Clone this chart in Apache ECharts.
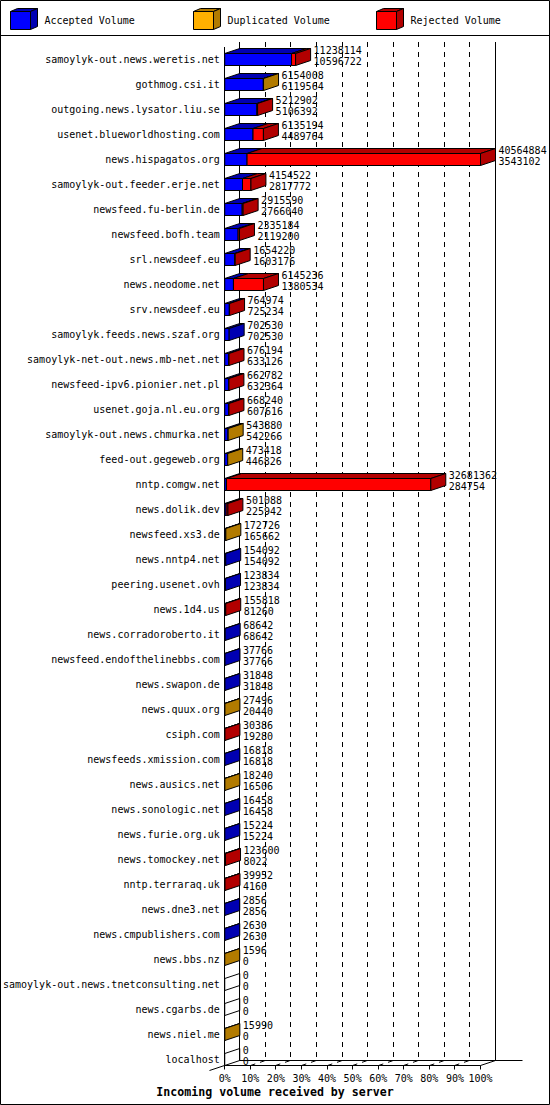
<!DOCTYPE html>
<html><head><meta charset="utf-8">
<script src="https://cdn.jsdelivr.net/npm/echarts@6/dist/echarts.min.js"></script>
<style>html,body{margin:0;padding:0;background:#fff}#c{width:550px;height:1105px}</style>
</head><body><div id="c"></div>
<script>
const categories = [
  'samoylyk-out.news.weretis.net','gothmog.csi.it','outgoing.news.lysator.liu.se','usenet.blueworldhosting.com',
  'news.hispagatos.org','samoylyk-out.feeder.erje.net','newsfeed.fu-berlin.de','newsfeed.bofh.team',
  'srl.newsdeef.eu','news.neodome.net','srv.newsdeef.eu','samoylyk.feeds.news.szaf.org',
  'samoylyk-net-out.news.mb-net.net','newsfeed-ipv6.pionier.net.pl','usenet.goja.nl.eu.org','samoylyk-out.news.chmurka.net',
  'feed-out.gegeweb.org','nntp.comgw.net','news.dolik.dev','newsfeed.xs3.de',
  'news.nntp4.net','peering.usenet.ovh','news.1d4.us','news.corradoroberto.it',
  'newsfeed.endofthelinebbs.com','news.swapon.de','news.quux.org','csiph.com',
  'newsfeeds.xmission.com','news.ausics.net','news.sonologic.net','news.furie.org.uk',
  'news.tomockey.net','nntp.terraraq.uk','news.dne3.net','news.cmpublishers.com',
  'news.bbs.nz','samoylyk-out.news.tnetconsulting.net','news.cgarbs.de','news.niel.me','localhost'
];
const offered = [
  11238114,6154008,5212902,6135194,40564884,4154522,2915590,2335184,
  1654220,6145236,764974,702530,676194,662782,668240,543880,
  473418,32681362,501088,172726,154092,123834,155818,68642,
  37766,31848,27496,30386,16818,18240,16458,15224,
  123600,39952,2856,2630,1596,0,0,15990,0
];
const accepted = [
  10596722,6119564,5106392,4489764,3543102,2817772,2766040,2119200,
  1603176,1380534,725234,702530,633126,632364,607616,542266,
  446826,284754,225942,165662,154092,123834,81260,68642,
  37766,31848,20440,19280,16818,16506,16458,15224,
  8022,4160,2856,2630,0,0,0,0,0
];
const duplicated = [
  0,34444,0,0,0,0,0,0,
  0,0,0,0,0,0,0,1614,
  26592,0,0,7064,0,0,0,0,
  0,0,7056,0,0,1734,0,0,
  0,0,0,0,1596,0,0,15990,0
];
const rejected = [
  641392,0,106510,1645430,37021782,1336750,149550,215984,
  51044,4764702,39740,0,43068,30418,60624,0,
  0,32396608,275146,0,0,0,74558,0,
  0,0,0,11106,0,0,0,0,
  115578,35792,0,0,0,0,0,0,0
];
const tickLabels = ['0%','10%','20%','30%','40%','50%','60%','70%','80%','90%','100%'];
const legendNames = ['Accepted Volume','Duplicated Volume','Rejected Volume'];
const titleText = 'Incoming volume received by server';

const FRONT = ['#0000FF','#FFB000','#FF0000'];
const DARK  = ['#0000B2','#B27B00','#B20000'];
const DX = 15, DY = -5, HALF = 6;
const FONT = '"DejaVu Sans Mono", "Liberation Mono", monospace';
const MAXV = Math.max.apply(null, offered);
const pct = v => v / MAXV * 100;

const barData = categories.map((c, i) => [i, accepted[i], duplicated[i], rejected[i], offered[i]]);

function renderBar(params, api) {
  const i = api.value(0);
  const parts = [api.value(1), api.value(2), api.value(3)];
  const c = api.coord([0, i]);
  const y0 = c[1] - HALF, y1 = c[1] + HALF;
  const children = [];
  let cum = 0, lastX = c[0], lastDark = null;
  parts.forEach((v, k) => {
    if (v <= 0) return;
    const xa = api.coord([pct(cum), i])[0];
    cum += v;
    const xb = api.coord([pct(cum), i])[0];
    children.push({type: 'polygon', shape: {points: [[xa, y0], [xb, y0], [xb + DX, y0 + DY], [xa + DX, y0 + DY]]},
      style: {fill: DARK[k], stroke: '#000', lineWidth: 1}});
    children.push({type: 'rect', shape: {x: xa, y: y0, width: xb - xa, height: y1 - y0},
      style: {fill: FRONT[k], stroke: '#000', lineWidth: 1}});
    lastX = xb; lastDark = DARK[k];
  });
  children.push({type: 'polygon', shape: {points: [[lastX, y0], [lastX + DX, y0 + DY], [lastX + DX, y1 + DY], [lastX, y1]]},
    style: {fill: lastDark || 'rgba(0,0,0,0)', stroke: '#000', lineWidth: 1}});
  children.push({type: 'text', x: lastX + DX + 3, y: c[1] - 4,
    style: {text: offered[i] + '\n' + accepted[i], fill: '#000', font: '10px ' + FONT,
      align: 'left', verticalAlign: 'middle', lineHeight: 11}});
  return {type: 'group', children: children};
}

function crisp(v) { return Math.round(v - 0.5) + 0.5; }

function renderFrame(params, api) {
  const n = categories.length;
  const p0 = api.coord([0, 0]);
  const pN = api.coord([0, n - 1]);
  const band = api.size([0, 1])[1];
  const x0 = crisp(p0[0]);
  const topY = p0[1] - band / 2;
  const floorY = crisp(pN[1] + HALF);
  const x100 = crisp(api.coord([100, 0])[0]);
  const L = (x1, y1, x2, y2, dash) => ({type: 'line', shape: {x1, y1, x2, y2},
    style: {stroke: '#000', lineWidth: 1, lineDash: dash || null}});
  const ch = [];
  ch.push(L(x0 + DX, topY + DY, x0 + DX, floorY + DY));
  ch.push(L(x100 + DX, topY + DY, x100 + DX, floorY + DY));
  for (let k = 1; k < 10; k++) {
    const x = crisp(api.coord([k * 10, 0])[0]);
    ch.push(L(x + DX, topY + DY, x + DX, floorY + DY, [5, 5]));
    ch.push(L(x, floorY, x + DX, floorY + DY, [5, 5]));
  }
  ch.push(L(x0 + DX, floorY + DY, x100 + DX + 27, floorY + DY));
  ch.push(L(x0, topY, x0, floorY));
  ch.push(L(x0, floorY, x100, floorY));
  ch.push(L(x100, floorY, x100 + DX, floorY + DY));
  ch.push(L(x0 - DX, floorY - DY, x0, floorY));
  for (let k = 0; k <= 10; k++) {
    const x = crisp(api.coord([k * 10, 0])[0]);
    ch.push(L(x, floorY, x, floorY + 4));
  }
  return {type: 'group', children: ch};
}

// legend cubes
const legendX = [10.5, 193.5, 376.5];
const legendGraphics = [];
legendNames.forEach((name, k) => {
  const x = legendX[k], y = 11.5, w = 20, h = 18, dx = 7, dy = -3;
  legendGraphics.push({type: 'polygon', shape: {points: [[x, y], [x + w, y], [x + w + dx, y + dy], [x + dx, y + dy]]},
    style: {fill: DARK[k], stroke: '#000', lineWidth: 1}});
  legendGraphics.push({type: 'polygon', shape: {points: [[x + w, y], [x + w + dx, y + dy], [x + w + dx, y + h + dy], [x + w, y + h]]},
    style: {fill: DARK[k], stroke: '#000', lineWidth: 1}});
  legendGraphics.push({type: 'rect', shape: {x: x, y: y, width: w, height: h},
    style: {fill: FRONT[k], stroke: '#000', lineWidth: 1}});
  legendGraphics.push({type: 'text', x: x + 34, y: 20.5,
    style: {text: name, fill: '#000', font: '10px ' + FONT, align: 'left', verticalAlign: 'middle'}});
});
legendGraphics.push({type: 'line', shape: {x1: 0, y1: 35.5, x2: 550, y2: 35.5}, style: {stroke: '#000', lineWidth: 1}});
legendGraphics.push({type: 'rect', shape: {x: 0.5, y: 0.5, width: 549, height: 1104}, style: {fill: 'none', stroke: '#000', lineWidth: 1}});

const chart = echarts.init(document.getElementById('c'), null, {renderer: 'svg'});
chart.setOption({
  backgroundColor: '#fff',
  animation: false,
  title: {text: titleText, left: 'center', top: 1081,
    textStyle: {fontFamily: FONT, fontSize: 11.6, fontWeight: 'bold', color: '#000'}},
  grid: {left: 224.5, width: 256, top: 47, height: 1025},
  xAxis: {type: 'value', min: 0, max: 100, interval: 10,
    axisLine: {show: false}, axisTick: {show: false}, splitLine: {show: false},
    axisLabel: {margin: 1, color: '#000', fontFamily: FONT, fontSize: 10,
      formatter: (v) => tickLabels[Math.round(v / 10)]}},
  yAxis: {type: 'category', inverse: true, data: categories,
    axisLine: {show: false}, axisTick: {show: false}, splitLine: {show: false},
    axisLabel: {interval: 0, margin: 5, color: '#000', fontFamily: FONT, fontSize: 10}},
  graphic: legendGraphics,
  series: [
    {type: 'custom', name: 'frame', renderItem: renderFrame, data: [[0, 0]], silent: true, z: 1},
    {type: 'custom', name: 'volume', renderItem: renderBar, data: barData, z: 2,
      encode: {x: [1], y: 0}}
  ]
});
</script></body></html>
